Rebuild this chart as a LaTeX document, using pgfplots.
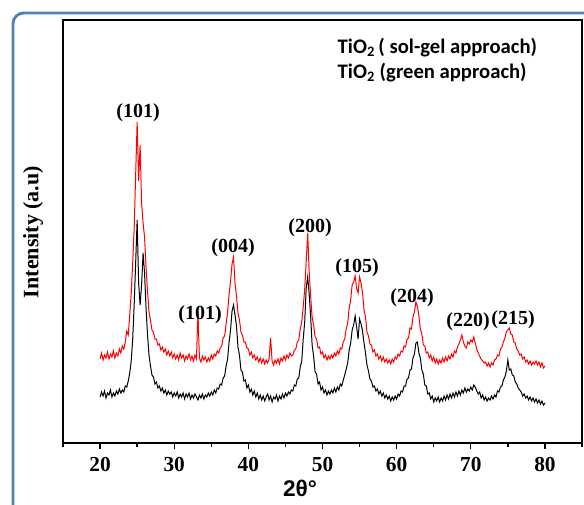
\documentclass[border=0pt]{standalone}
\usepackage{pgfplots}
\pgfplotsset{compat=1.18}
\usepackage{pgfplotstable}
\usepackage{fontspec}
\setmainfont{Liberation Serif}
\setsansfont{Liberation Sans}
\newfontfamily\legfont{Carlito}
\definecolor{frameblue}{RGB}{79,129,189}

% 2theta, black (green approach), red (sol-gel approach); intensity in arbitrary units
\pgfplotstableread{
x b r
20.0 46 84
20.2 51 90
20.4 47 83
20.6 52 88
20.8 45 85
21.0 50 91
21.2 48 84
21.4 53 89
21.6 46 86
21.8 50 92
22.0 47 85
22.2 52 90
22.4 49 87
22.6 54 94
22.8 50 90
23.0 53 97
23.2 51 94
23.4 57 101
23.6 56 112
23.8 62 108
24.0 70 128
24.2 82 150
24.4 104 180
24.6 138 215
24.8 180 268
25.0 223 321
25.2 160 262
25.4 138 298
25.6 158 240
25.8 190 220
26.0 170 206
26.2 135 176
26.4 108 152
26.6 88 131
26.8 77 123
27.0 68 113
27.2 66 111
27.4 59 104
27.6 61 104
27.8 55 98
28.0 57 99
28.2 52 93
28.4 55 96
28.6 50 91
28.8 53 94
29.0 48 88
29.2 52 92
29.4 49 87
29.6 51 91
29.8 46 85
30.0 50 89
30.2 47 84
30.4 51 88
30.6 45 83
30.8 49 90
31.0 46 85
31.2 50 88
31.4 44 82
31.6 49 87
31.8 46 84
32.0 50 89
32.2 44 83
32.4 48 87
32.6 45 82
32.8 49 88
33.0 46 84
33.2 43 131
33.4 48 85
33.6 45 81
33.8 49 87
34.0 44 83
34.2 48 86
34.4 46 81
34.6 50 85
34.8 47 82
35.0 51 88
35.2 48 84
35.4 53 89
35.6 50 87
35.8 55 92
36.0 54 90
36.2 59 95
36.4 58 97
36.6 65 105
36.8 67 107
37.0 77 119
37.2 84 131
37.4 101 149
37.6 113 162
37.8 132 179
38.0 138 186
38.2 128 160
38.4 117 147
38.6 96 130
38.8 88 123
39.0 73 111
39.2 71 108
39.4 62 101
39.6 63 101
39.8 55 95
40.0 58 94
40.2 51 88
40.4 54 91
40.6 48 85
40.8 52 88
41.0 46 83
41.2 50 86
41.4 44 81
41.6 48 85
41.8 43 80
42.0 47 84
42.2 42 79
42.4 46 83
42.6 49 80
42.8 43 84
43.0 47 105
43.2 41 82
43.4 46 78
43.6 44 83
43.8 48 80
44.0 42 84
44.2 47 79
44.4 44 85
44.6 49 82
44.8 45 87
45.0 50 83
45.2 47 88
45.4 51 85
45.6 49 90
45.8 53 87
46.0 52 88
46.2 58 93
46.4 57 94
46.6 64 101
46.8 65 103
47.0 76 114
47.2 82 121
47.4 104 136
47.6 121 154
47.8 155 181
48.0 166 210
48.2 149 172
48.4 127 147
48.6 98 126
48.8 87 118
49.0 71 106
49.2 69 104
49.4 59 95
49.6 61 96
49.8 53 89
50.0 56 91
50.2 50 85
50.4 53 88
50.6 48 83
50.8 52 87
51.0 49 84
51.2 53 88
51.4 50 85
51.6 55 90
51.8 51 87
52.0 56 92
52.2 53 89
52.4 59 95
52.6 57 94
52.8 63 101
53.0 68 104
53.2 74 114
53.4 80 120
53.6 93 135
53.8 100 143
54.0 113 158
54.2 118 161
54.4 127 167
54.6 116 155
54.8 104 150
55.0 124 166
55.2 119 160
55.4 112 150
55.6 100 133
55.8 90 126
56.0 78 111
56.2 72 107
56.4 64 99
56.6 62 98
56.8 56 91
57.0 57 93
57.2 52 87
57.4 54 89
57.6 49 84
57.8 52 87
58.0 47 82
58.2 50 86
58.4 45 81
58.6 48 84
58.8 44 80
59.0 47 83
59.2 42 79
59.4 46 84
59.6 43 81
59.8 47 86
60.0 44 84
60.2 49 89
60.4 47 87
60.6 52 92
60.8 51 91
61.0 57 97
61.2 57 96
61.4 64 104
61.6 65 105
61.8 73 115
62.0 74 114
62.2 85 126
62.4 89 131
62.6 100 141
62.8 101 137
63.0 90 127
63.2 85 114
63.4 73 109
63.6 69 98
63.8 58 97
64.0 57 90
64.2 49 91
64.4 50 85
64.6 44 88
64.8 47 82
65.0 41 86
65.2 45 80
65.4 42 84
65.6 46 79
65.8 41 83
66.0 45 80
66.2 42 85
66.4 47 81
66.6 43 86
66.8 48 82
67.0 44 87
67.2 49 84
67.4 45 89
67.6 50 86
67.8 46 92
68.0 51 90
68.2 47 96
68.4 52 99
68.6 48 103
68.8 53 108
69.0 50 101
69.2 55 97
69.4 51 95
69.6 54 101
69.8 52 99
70.0 56 103
70.2 53 101
70.4 58 106
70.6 56 100
70.8 52 94
71.0 49 90
71.2 51 87
71.4 45 84
71.6 48 82
71.8 43 80
72.0 46 81
72.2 42 77
72.4 45 80
72.6 43 76
72.8 47 80
73.0 44 78
73.2 48 83
73.4 46 84
73.6 52 88
73.8 51 87
74.0 56 94
74.2 57 96
74.4 63 101
74.6 66 105
74.8 72 111
75.0 83 113
75.2 73 115
75.4 74 109
75.6 68 108
75.8 67 101
76.0 61 100
76.2 59 94
76.4 55 92
76.6 53 88
76.8 51 89
77.0 47 84
77.2 49 86
77.4 45 81
77.6 47 83
77.8 43 79
78.0 46 82
78.2 42 78
78.4 45 81
78.6 41 79
78.8 44 82
79.0 40 78
79.2 43 81
79.4 39 76
79.6 42 80
79.8 38 75
80.0 40 77
}\xrd

\begin{document}
\begin{tikzpicture}
\useasboundingbox (0,0) rectangle (438pt,378pt);
\clip (0,0) rectangle (438pt,378pt);

\begin{axis}[
  at={(47.25pt,45.75pt)}, anchor=south west,
  scale only axis, width=389.25pt, height=317.25pt,
  xmin=15, xmax=85, ymin=0, ymax=423,
  axis line style={line width=1.5pt},
  xtick={20,30,...,80}, minor xtick={15,25,...,85},
  ytick=\empty,
  tick pos=left, tick align=outside,
  major tick length=4.5pt, minor tick length=3pt,
  every tick/.style={black, line width=1pt},
  /pgf/number format/assume math mode=true,
  xticklabel style={font=\bfseries\fontsize{16}{16}\selectfont, yshift=-3pt},
]
\addplot[black, line width=0.75pt] table[x=x, y=b] {\xrd};
\addplot[red, line width=0.75pt] table[x=x, y=r] {\xrd};
\end{axis}

\begin{scope}[x=0.75pt, y=-0.75pt, shift={(0pt,378pt)}]
  \draw[frameblue, line width=2.2pt, rounded corners=8pt] (13,560) -- (13,13) -- (620,13);
  % legend text
  \node[anchor=west, font=\legfont\bfseries\fontsize{15.5}{16}\selectfont] at (333,48) {TiO\textsubscript{2}\,( sol-gel approach)};
  \node[anchor=west, font=\legfont\bfseries\fontsize{15.5}{16}\selectfont] at (333,73) {TiO\textsubscript{2} (green approach)};
  % peak labels
  \begin{scope}[every node/.style={font=\bfseries\fontsize{15}{15}\selectfont}]
    \node at (138,113) {(101)};
    \node at (200,315) {(101)};
    \node at (233,248) {(004)};
    \node at (310,228) {(200)};
    \node at (357,268) {(105)};
    \node at (412,298) {(204)};
    \node at (468,322) {(220)};
    \node at (513,320) {(215)};
  \end{scope}
  \node[rotate=90, font=\bfseries\fontsize{16.5}{16.5}\selectfont] at (33,232) {Intensity (a.u)};
  \node[font=\sffamily\bfseries\fontsize{17}{17}\selectfont] at (300,488) {2θ°};
\end{scope}
\end{tikzpicture}
\end{document}
